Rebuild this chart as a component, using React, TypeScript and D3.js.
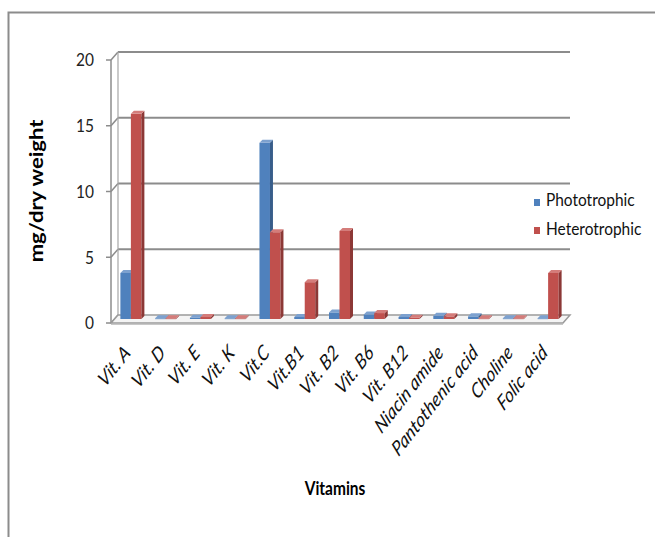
import React from "react";
import * as d3 from "d3";

const categories = ["Vit. A", "Vit. D", "Vit. E", "Vit. K", "Vit.C", "Vit.B1", "Vit. B2", "Vit. B6", "Vit. B12", "Niacin amide", "Pantothenic acid", "Choline", "Folic acid"];
const phototrophic = [3.5, 0.05, 0.1, 0.05, 13.4, 0.15, 0.5, 0.35, 0.15, 0.25, 0.2, 0.05, 0.05];
const heterotrophic = [15.6, 0.05, 0.15, 0.05, 6.6, 2.8, 6.7, 0.45, 0.1, 0.2, 0.05, 0.05, 3.5];
const yTicks = [0, 5, 10, 15, 20];
const seriesNames = ["Phototrophic", "Heterotrophic"];

const colors = [
  { front: "#4F81BD", side: "#385D8A", top: "#7DA1CF" },
  { front: "#C0504D", side: "#8C3836", top: "#D47C7A" },
];

const FONT = "Lato, 'Open Sans', sans-serif";
const SQ = 0.86; // horizontal squash of the reference text
const SQL = 0.78; // squash for rotated labels

export default function App() {
  const W = 655, H = 537;
  const x0 = 111, x1 = 563;
  const depthX = 7, depthY = 8;
  const frontY = d3.scaleLinear().domain([0, 20]).range([323, 60]);
  const backY = (v: number) => frontY(v) - depthY;
  const barY = (v: number) => frontY(v) - depthY / 2;
  const x = d3.scaleBand<string>().domain(categories).range([x0, x1]).padding(0);
  const bw = 10.5;
  const bd = 3;

  const bar = (cx: number, v: number, c: { front: string; side: string; top: string }, key: string) => {
    const yb = barY(0);
    const yt = barY(v);
    const left = cx;
    const right = cx + bw;
    return (
      <g key={key}>
        <rect x={left} y={yt} width={bw} height={Math.max(0.8, yb - yt)} fill={c.front} />
        <path d={`M${right},${yt}L${right + bd},${yt - bd}L${right + bd},${yb - bd}L${right},${yb}Z`} fill={c.side} />
        <path d={`M${left},${yt}L${left + bd},${yt - bd}L${right + bd},${yt - bd}L${right},${yt}Z`} fill={c.top} />
      </g>
    );
  };

  return (
    <svg width={W} height={H} style={{ position: "absolute", left: 0, top: 0 }}>
      <rect x={0} y={0} width={W} height={H} fill="#fff" />
      {/* outer border */}
      <path d={`M8.5,${H}L8.5,12.5L${W},12.5`} fill="none" stroke="#8c8c8c" strokeWidth={2} />

      {/* back wall gridlines */}
      {yTicks.map((t) => (
        <g key={"g" + t}>
          {t > 0 && (
            <line x1={x0 + depthX} x2={x1 + depthX} y1={backY(t)} y2={backY(t)} stroke="#8c8c8c" strokeWidth={2} />
          )}
          <line x1={x0 - 5} x2={x0} y1={frontY(t)} y2={frontY(t)} stroke="#8c8c8c" strokeWidth={1.5} />
          <line x1={x0} x2={x0 + depthX} y1={frontY(t)} y2={backY(t)} stroke="#8c8c8c" strokeWidth={1.5} />
          <text
            transform={`translate(${x0 - 17},${frontY(t)}) scale(${SQ},1)`}
            dy="0.36em"
            textAnchor="end"
            fontFamily={FONT}
            fontSize={18}
            fill="#222"
          >
            {t}
          </text>
        </g>
      ))}
      {/* back wall left edge and front axis */}
      <line x1={x0 + depthX} x2={x0 + depthX} y1={backY(20)} y2={backY(0)} stroke="#a6a6a6" strokeWidth={1.2} />
      <line x1={x0} x2={x0} y1={frontY(20)} y2={frontY(0)} stroke="#8c8c8c" strokeWidth={1.5} />

      {/* floor */}
      <path
        d={`M${x0},${frontY(0)}L${x1},${frontY(0)}L${x1 + depthX},${backY(0)}L${x0 + depthX},${backY(0)}Z`}
        fill="#f4f4f4"
        stroke="#9a9a9a"
        strokeWidth={1.5}
      />
      <line x1={x0} x2={x1} y1={frontY(0) + 1.5} y2={frontY(0) + 1.5} stroke="#c8c8c8" strokeWidth={1} />

      {/* bars */}
      {categories.map((cat, i) => {
        const center = (x(cat) as number) + x.bandwidth() / 2 + depthX / 2 - 1;
        return (
          <g key={cat}>
            {bar(center - bw, phototrophic[i], colors[0], cat + "p")}
            {bar(center, heterotrophic[i], colors[1], cat + "h")}
          </g>
        );
      })}

      {/* category labels */}
      {categories.map((cat) => {
        const cx = (x(cat) as number) + x.bandwidth() / 2 + 3;
        const cy = 354;
        return (
          <text
            key={"l" + cat}
            transform={`translate(${cx},${cy}) scale(${SQL},1) rotate(-45)`}
            textAnchor="end"
            fontFamily={FONT}
            fontStyle="italic"
            fontSize={21}
            fill="#111"
          >
            {cat}
          </text>
        );
      })}

      {/* legend */}
      {seriesNames.map((s, i) => (
        <g key={s}>
          <rect x={534} y={199 + i * 28} width={6} height={7} fill={colors[i].front} />
          <text
            transform={`translate(546,${206 + i * 29}) scale(${SQ},1)`}
            fontFamily={FONT}
            fontSize={18}
            fill="#111"
          >
            {s}
          </text>
        </g>
      ))}

      {/* axis titles */}
      <text
        transform={`translate(43,191) scale(${SQ},1) rotate(-90)`}
        textAnchor="middle"
        fontFamily={FONT}
        fontWeight="bold"
        fontSize={22}
        fill="#000"
      >
        mg/dry weight
      </text>
      <text
        transform={`translate(335,495) scale(${SQ},1)`}
        textAnchor="middle"
        fontFamily={FONT}
        fontWeight="bold"
        fontSize={18}
        fill="#000"
      >
        Vitamins
      </text>
    </svg>
  );
}
